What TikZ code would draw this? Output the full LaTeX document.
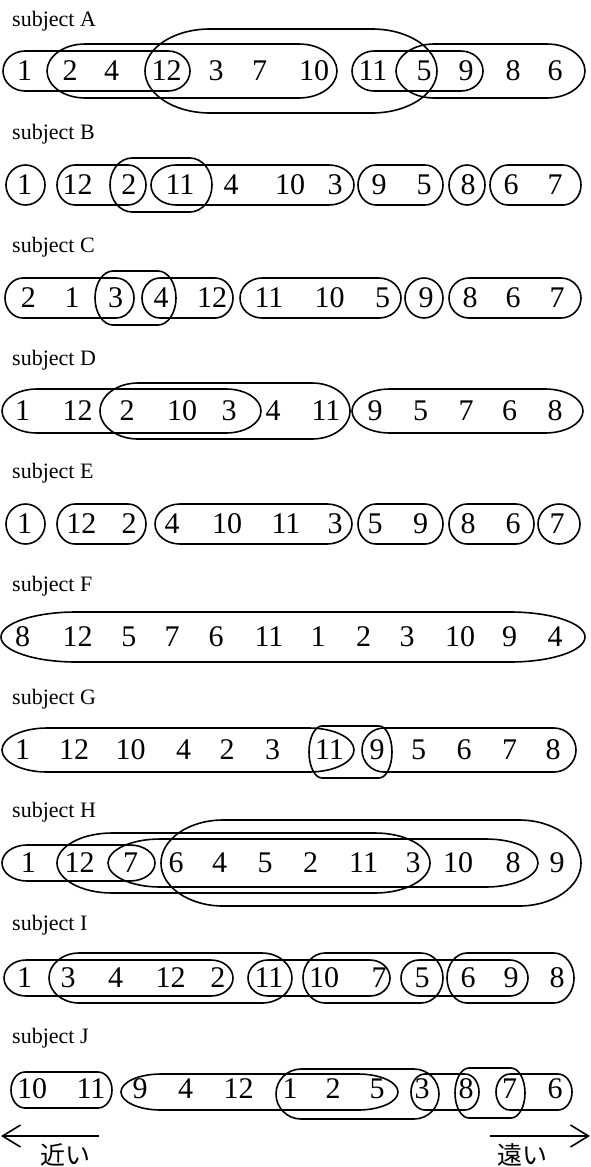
\documentclass[tikz,border=0pt]{standalone}
\usepackage{fontspec}
\setmainfont{Liberation Serif}
\newfontfamily\jpfont{Noto Sans CJK JP}
\usetikzlibrary{arrows.meta}
% stadium-like enclosure: left x, right x, centre y, half height, end x-radius
\newcommand\encl[5]{%
 \pgfmathsetmacro\zzA{#1+#5}%
 \pgfmathsetmacro\zzB{#2-#5}%
 \pgfmathsetmacro\zzT{#3-#4}%
 \pgfmathsetmacro\zzD{#3+#4}%
 \pgfmathsetmacro\zzP{#2-#5+0.5523*#5}%
 \pgfmathsetmacro\zzQ{#1+#5-0.5523*#5}%
 \pgfmathsetmacro\zzU{#3-0.5523*#4}%
 \pgfmathsetmacro\zzV{#3+0.5523*#4}%
 \draw[enc] (\zzA,\zzT) -- (\zzB,\zzT) .. controls (\zzP,\zzT) and (#2,\zzU) .. (#2,#3)
   .. controls (#2,\zzV) and (\zzP,\zzD) .. (\zzB,\zzD) -- (\zzA,\zzD)
   .. controls (\zzQ,\zzD) and (#1,\zzV) .. (#1,#3)
   .. controls (#1,\zzU) and (\zzQ,\zzT) .. (\zzA,\zzT) -- cycle;}
\begin{document}
\begin{tikzpicture}[x=1pt,y=-1pt,
  enc/.style={line width=1.6pt},
  num/.style={font=\fontsize{30}{30}\selectfont, inner sep=0pt},
  lab/.style={font=\fontsize{22}{22}\selectfont, inner sep=0pt, anchor=base west},
  jp/.style={font=\jpfont\fontsize{25}{25}\selectfont, inner sep=0pt},
  arr/.style={line width=1.6pt, -{Straight Barb[length=18pt,width=22pt]}}]
\useasboundingbox (0,0) rectangle (591,1167);

% labels
\node[lab] (la) at (12,26) {subject A};
\node[lab] (lb) at (12,139) {subject B};
\node[lab] (lc) at (12,252) {subject C};
\node[lab] (ld) at (12,365) {subject D};
\node[lab] (le) at (12,478) {subject E};
\node[lab] (lf) at (12,591) {subject F};
\node[lab] (lg) at (12,704) {subject G};
\node[lab] (lh) at (12,817) {subject H};
\node[lab] (li) at (12,930) {subject I};
\node[lab] (lj) at (12,1043) {subject J};

% numbers
\foreach \x/\t [count=\i] in {24.6/1,70/2,111.7/4,166.7/12,216/3,259.5/7,314/10,373/11,424/5,466/9,513/8,555/6}
  \node[num] (A\i) at (\x,71) {\t};
\foreach \x/\t [count=\i] in {24.6/1,77.7/12,128.8/2,180/11,231/4,290/10,335/3,379/9,424/5,468/8,511/6,555/7}
  \node[num] (B\i) at (\x,185) {\t};
\foreach \x/\t [count=\i] in {28.4/2,72/1,115.5/3,161/4,212/12,269/11,329.5/10,382.6/5,426/9,470/8,513/6,557/7}
  \node[num] (C\i) at (\x,298) {\t};
\foreach \x/\t [count=\i] in {22.7/1,77.7/12,127/2,182/10,229/3,273/4,326/11,375/9,420.5/5,466/7,509.5/6,555/8}
  \node[num] (D\i) at (\x,411) {\t};
\foreach \x/\t [count=\i] in {24.6/1,81.4/12,129/2,172/4,227/10,286/11,335/3,375/5,420.5/9,468/8,513/6,557/7}
  \node[num] (E\i) at (\x,524) {\t};
\foreach \x/\t [count=\i] in {22.7/8,77.7/12,128.8/5,172/7,216/6,269/11,318/1,363.6/2,407/3,460/10,509.5/9,555/4}
  \node[num] (F\i) at (\x,637) {\t};
\foreach \x/\t [count=\i] in {22.7/1,74/12,130.7/10,183.7/4,227/2,272.7/3,329.5/11,377/9,418.6/5,464/6,509.5/7,553/8}
  \node[num] (G\i) at (\x,750) {\t};
\foreach \x/\t [count=\i] in {28.4/1,79.5/12,130.7/7,176/6,219.7/4,265/5,310.6/2,363.6/11,413/3,458/10,513/8,557/9}
  \node[num] (H\i) at (\x,863) {\t};
\foreach \x/\t [count=\i] in {24.6/1,68/3,115.5/4,170.5/12,217.8/2,269/11,324/10,379/7,422/5,468/6,511/9,557/8}
  \node[num] (I\i) at (\x,978) {\t};
\foreach \x/\t [count=\i] in {32/10,91/11,140/9,185.6/4,238.6/12,290/1,333/2,377/5,422/3,466/8,509.5/7,555/6}
  \node[num] (J\i) at (\x,1089) {\t};

% row A
\encl{3}{190}{71}{20}{22}
\encl{47}{337}{71}{27}{38}
\encl{145}{437}{71}{42}{65}
\encl{352}{483}{71}{20}{22}
\encl{396}{585}{71}{27}{38}
% row B
\encl{6}{45}{185}{20}{19.5}
\encl{57}{146}{185}{20}{18}
\encl{110}{212}{185}{27}{22}
\encl{151}{354}{185}{20}{25}
\encl{358}{443}{185}{20}{18}
\encl{449}{485}{185}{20}{18}
\encl{490}{581}{185}{20}{18}
% row C
\encl{5}{134}{298}{20}{18}
\encl{95}{176}{298}{27}{18}
\encl{142}{233}{298}{20}{18}
\encl{240}{401}{298}{20}{22}
\encl{405}{443}{298}{20}{19}
\encl{449}{581}{298}{20}{20}
% row D
\encl{2}{261}{411}{22}{35}
\encl{100}{350}{411}{28}{38}
\encl{352}{583}{411}{22}{38}
% row E
\encl{6}{45}{524}{20}{19.5}
\encl{57}{146}{524}{20}{18}
\encl{155}{352}{524}{20}{25}
\encl{358}{443}{524}{20}{18}
\encl{449}{534}{524}{20}{18}
\encl{538}{580}{524}{20}{21}
% row F
\encl{1}{585}{637}{25}{75}
% row G
\encl{2}{354}{750}{22}{45}
\encl{309}{392}{752}{26}{13}
\encl{362}{576}{750}{22}{22}
% row H
\encl{2}{155}{863}{18}{25}
\encl{57}{430}{863}{30}{55}
\encl{108}{538}{863}{24}{52}
\encl{161}{581}{863}{43}{62}
% row I
\encl{4}{233}{978}{18}{22}
\encl{49}{292}{978}{25}{30}
\encl{248}{390}{978}{18}{20}
\encl{303}{443}{978}{25}{22}
\encl{401}{528}{978}{18}{18}
\encl{447}{574}{978}{25}{20}
% row J
\encl{11}{112}{1090}{18}{14}
\encl{121}{398}{1092}{18}{40}
\encl{276}{439}{1094}{25}{25}
\encl{411}{479}{1092}{18}{14}
\encl{455}{525}{1093}{25}{14}
\encl{496}{572}{1092}{18}{14}

% direction arrows
\coordinate (ls) at (99,1136);
\coordinate (lt) at (1,1136);
\coordinate (rs) at (490,1136);
\coordinate (rt) at (590,1136);
\draw[arr] (ls) -- (lt);
\draw[arr] (rs) -- (rt);
\node[jp] (near) at (65,1155) {近い};
\node[jp] (far) at (522,1155) {遠い};
\end{tikzpicture}
\end{document}
